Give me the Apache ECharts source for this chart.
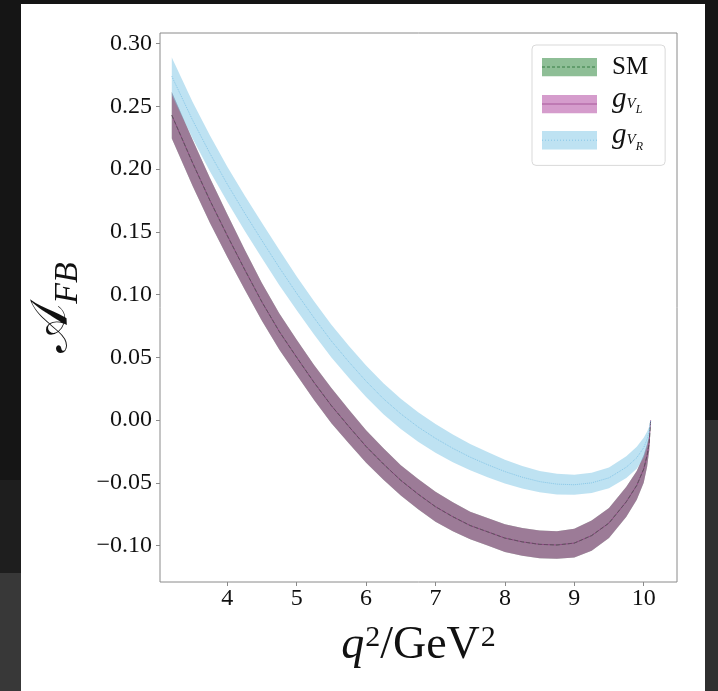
<!DOCTYPE html>
<html>
<head>
<meta charset="utf-8">
<script src="https://cdn.jsdelivr.net/npm/echarts@6/dist/echarts.min.js"></script>
<style>
  html, body { margin: 0; padding: 0; width: 718px; height: 691px; overflow: hidden; background: #151515; }
  .bg { position: absolute; }
  #chart { position: absolute; left: 0; top: 0; width: 718px; height: 691px; }
</style>
</head>
<body>
<div class="bg" style="left:0;top:480px;width:21px;height:93px;background:#1e1e1e;"></div>
<div class="bg" style="left:0;top:573px;width:21px;height:118px;background:#383838;"></div>
<div class="bg" style="left:705px;top:420px;width:13px;height:271px;background:#2f2f2f;"></div>
<div class="bg" style="left:21px;top:4px;width:684px;height:687px;background:#ffffff;"></div>
<div id="chart"></div>
<script>
// q^2 sample points (GeV^2)
const q2 = [3.2, 3.5, 3.75, 4.0, 4.25, 4.5, 4.75, 5.0, 5.25, 5.5, 5.75, 6.0, 6.25, 6.5, 6.75, 7.0, 7.25, 7.5, 7.75, 8.0, 8.25, 8.5, 8.75, 9.0, 9.25, 9.5, 9.75, 9.9, 10.0, 10.05, 10.08, 10.1];

// SM band (central, lower, upper)
const smMid  = [0.243, 0.205, 0.175, 0.147, 0.120, 0.094, 0.0705, 0.050, 0.030, 0.0115, -0.005, -0.021, -0.035, -0.048, -0.059, -0.069, -0.077, -0.084, -0.089, -0.094, -0.097, -0.099, -0.0995, -0.098, -0.092, -0.082, -0.065, -0.052, -0.039, -0.028, -0.018, 0.0];
const smLow  = [0.2245, 0.1865, 0.157, 0.130, 0.104, 0.079, 0.056, 0.036, 0.016, -0.0025, -0.0185, -0.034, -0.0475, -0.060, -0.071, -0.081, -0.0885, -0.095, -0.100, -0.105, -0.108, -0.110, -0.1105, -0.1095, -0.104, -0.094, -0.077, -0.0635, -0.050, -0.037, -0.024, 0.0];
const smHigh = [0.2615, 0.2235, 0.193, 0.164, 0.136, 0.109, 0.085, 0.064, 0.044, 0.0255, 0.0085, -0.008, -0.0225, -0.036, -0.047, -0.057, -0.0655, -0.073, -0.078, -0.083, -0.086, -0.088, -0.0885, -0.0865, -0.080, -0.070, -0.053, -0.0405, -0.028, -0.019, -0.012, 0.0];

// g_{V_L} band (coincides with SM)
const gvlMid  = [0.243, 0.205, 0.175, 0.147, 0.120, 0.094, 0.0705, 0.050, 0.030, 0.0115, -0.005, -0.021, -0.035, -0.048, -0.059, -0.069, -0.077, -0.084, -0.089, -0.094, -0.097, -0.099, -0.0995, -0.098, -0.092, -0.082, -0.065, -0.052, -0.039, -0.028, -0.018, 0.0];
const gvlLow  = [0.2245, 0.1865, 0.157, 0.130, 0.104, 0.079, 0.056, 0.036, 0.016, -0.0025, -0.0185, -0.034, -0.0475, -0.060, -0.071, -0.081, -0.0885, -0.095, -0.100, -0.105, -0.108, -0.110, -0.1105, -0.1095, -0.104, -0.094, -0.077, -0.0635, -0.050, -0.037, -0.024, 0.0];
const gvlHigh = [0.2615, 0.2235, 0.193, 0.164, 0.136, 0.109, 0.085, 0.064, 0.044, 0.0255, 0.0085, -0.008, -0.0225, -0.036, -0.047, -0.057, -0.0655, -0.073, -0.078, -0.083, -0.086, -0.088, -0.0885, -0.0865, -0.080, -0.070, -0.053, -0.0405, -0.028, -0.019, -0.012, 0.0];

// g_{V_R} band
const gvrMid  = [0.274, 0.239, 0.2125, 0.188, 0.165, 0.143, 0.1215, 0.101, 0.0815, 0.063, 0.0465, 0.031, 0.017, 0.005, -0.0055, -0.0145, -0.0225, -0.0295, -0.0355, -0.041, -0.0455, -0.049, -0.051, -0.0515, -0.050, -0.046, -0.0375, -0.030, -0.022, -0.015, -0.009, 0.0];
const gvrLow  = [0.259, 0.2245, 0.1982, 0.174, 0.151, 0.129, 0.1075, 0.0875, 0.0682, 0.050, 0.0337, 0.0185, 0.0047, -0.007, -0.0173, -0.026, -0.0335, -0.040, -0.0455, -0.0505, -0.0545, -0.0575, -0.0592, -0.0595, -0.058, -0.0543, -0.0462, -0.0388, -0.030, -0.021, -0.013, 0.0];
const gvrHigh = [0.289, 0.2535, 0.2268, 0.202, 0.179, 0.157, 0.1355, 0.1145, 0.0948, 0.076, 0.0593, 0.0435, 0.0293, 0.017, 0.0063, -0.003, -0.0115, -0.019, -0.0255, -0.0315, -0.0365, -0.0405, -0.0428, -0.0435, -0.042, -0.0377, -0.0288, -0.0212, -0.014, -0.009, -0.005, 0.0];

// tick values
const xTicks = [4, 5, 6, 7, 8, 9, 10];
const yTicks = [-0.10, -0.05, 0.00, 0.05, 0.10, 0.15, 0.20, 0.25, 0.30];

const SERIF = "'Liberation Serif', 'DejaVu Serif', serif";
const AXIS_GREY = '#8a8a8a';

const pairs = (ys) => q2.map((x, i) => [x, ys[i]]);

// a filled band between lo and hi, drawn as one polygon through the axes' scales
function band(name, lo, hi, fill) {
  return {
    name: name, type: 'custom', coordinateSystem: 'cartesian2d', silent: true,
    data: q2.map((x, i) => [x, lo[i], hi[i]]),
    encode: { x: 0, y: [1, 2] },
    itemStyle: { color: fill },
    renderItem: function (params, api) {
      if (params.dataIndex !== 0) return null;
      const pts = [];
      for (let i = 0; i < q2.length; i++) pts.push(api.coord([q2[i], hi[i]]));
      for (let i = q2.length - 1; i >= 0; i--) pts.push(api.coord([q2[i], lo[i]]));
      return { type: 'polygon', shape: { points: pts }, style: { fill: fill, stroke: null } };
    }
  };
}
function centre(key, mid, color, type, width) {
  return { name: key + '_c', type: 'line', data: pairs(mid), symbol: 'none', silent: true,
    lineStyle: { color: color, type: type, width: width } };
}

const smFill = 'rgba(30,125,45,0.5)';
const gvlFill = 'rgba(172,58,153,0.5)';
const gvrFill = 'rgba(125,197,230,0.5)';
const smLine = 'rgba(25,105,40,0.75)';
const gvlLine = 'rgba(140,45,125,0.6)';
const gvrLine = 'rgba(110,185,225,0.7)';

// legend patch: filled box with the series' centre-line style across it
function patchIcon(fill, line, dash) {
  const svg = "<svg xmlns='http://www.w3.org/2000/svg' width='55' height='19' viewBox='0 0 55 19'>" +
    "<rect x='0' y='0' width='55' height='19' fill='" + fill + "'/>" +
    "<line x1='0' y1='9.5' x2='55' y2='9.5' stroke='" + line + "' stroke-width='1'" +
    (dash ? " stroke-dasharray='" + dash + "'" : "") + "/></svg>";
  return 'image://data:image/svg+xml;charset=utf-8,' + encodeURIComponent(svg);
}

const chart = echarts.init(document.getElementById('chart'), null, { renderer: 'canvas' });
chart.setOption({
  animation: false,
  backgroundColor: 'transparent',
  grid: { left: 160, top: 33, right: 41, bottom: 109, show: true, borderColor: AXIS_GREY, borderWidth: 1, backgroundColor: 'transparent' },
  xAxis: {
    type: 'value', min: 3.03, max: 10.48,
    axisLine: { show: false, onZero: false },
    splitLine: { show: false },
    axisTick: { show: true, inside: false, length: 4, lineStyle: { color: AXIS_GREY }, customValues: xTicks },
    axisLabel: { customValues: xTicks, margin: 5, color: '#111', fontSize: 24, fontFamily: SERIF, formatter: v => String(v) },
    name: '{q|q}{sup|2}{n|/GeV}{sup|2}',
    nameLocation: 'middle', nameGap: 41,
    nameTextStyle: {
      rich: {
        q: { fontSize: 46, fontStyle: 'italic', fontFamily: SERIF, color: '#111', lineHeight: 56, verticalAlign: 'top' },
        n: { fontSize: 46, fontFamily: SERIF, color: '#111', lineHeight: 56, verticalAlign: 'top' },
        sup: { fontSize: 30, fontFamily: SERIF, color: '#111', verticalAlign: 'top', padding: [0, 0, 0, 1] }
      }
    }
  },
  yAxis: {
    type: 'value', min: -0.129, max: 0.3085,
    axisLine: { show: false, onZero: false },
    splitLine: { show: false },
    axisTick: { show: true, inside: false, length: 4, lineStyle: { color: AXIS_GREY }, customValues: yTicks },
    axisLabel: { customValues: yTicks, margin: 8, color: '#111', fontSize: 24, fontFamily: SERIF,
      formatter: v => v.toFixed(2).replace('-', '\u2212') },
    name: '{a|\uD835\uDC9C}{s|FB}',
    nameLocation: 'middle', nameRotate: 90, nameGap: 73,
    nameTextStyle: {
      rich: {
        a: { fontSize: 52, fontFamily: "'DejaVu Serif', 'DejaVu Sans', serif", color: '#111', lineHeight: 60, verticalAlign: 'top' },
        s: { fontSize: 34, fontStyle: 'italic', fontFamily: SERIF, color: '#111', verticalAlign: 'top', padding: [24, 0, 0, 0] }
      }
    }
  },
  legend: {
    orient: 'vertical', left: 532, top: 45,
    padding: [2, 17, 13, 10],
    itemWidth: 55, itemHeight: 19, itemGap: 4,
    backgroundColor: '#fff', borderColor: '#d9d9d9', borderWidth: 1, borderRadius: 4,
    selectedMode: false,
    data: [
      { name: 'SM', icon: patchIcon(smFill, smLine, '3,2'), itemStyle: { color: smFill, borderWidth: 0 } },
      { name: 'gVL', icon: patchIcon(gvlFill, gvlLine, null), itemStyle: { color: gvlFill, borderWidth: 0 } },
      { name: 'gVR', icon: patchIcon(gvrFill, gvrLine, '1,2'), itemStyle: { color: gvrFill, borderWidth: 0 } }
    ],
    formatter: function (name) {
      if (name === 'SM') return '{sp| }{n|SM}';
      if (name === 'gVL') return '{sp| }{g|g}{s|V}{ss|L}';
      return '{sp| }{g|g}{s|V}{ss|R}';
    },
    textStyle: {
      rich: {
        sp: { width: 10, fontSize: 10, verticalAlign: 'top', padding: [0, 0, 30, 0] },
        n: { fontSize: 25, fontFamily: SERIF, color: '#111', verticalAlign: 'top', padding: [8, 0, 7, 0] },
        g: { fontSize: 29, fontStyle: 'italic', fontFamily: SERIF, color: '#111', verticalAlign: 'top', padding: [1, 0, 10, 0] },
        s: { fontSize: 15, fontStyle: 'italic', fontFamily: SERIF, color: '#111', verticalAlign: 'top', padding: [12.8, 0, 12.2, 0] },
        ss: { fontSize: 12, fontStyle: 'italic', fontFamily: SERIF, color: '#111', verticalAlign: 'top', padding: [20.2, 0, 7.8, 0] }
      }
    }
  },
  series: [
    band('SM', smLow, smHigh, smFill),
    centre('SM', smMid, smLine, 'dashed', 1),
    band('gVL', gvlLow, gvlHigh, gvlFill),
    centre('gVL', gvlMid, gvlLine, 'solid', 1),
    band('gVR', gvrLow, gvrHigh, gvrFill),
    centre('gVR', gvrMid, gvrLine, 'dotted', 1)
  ]
});
</script>
</body>
</html>
